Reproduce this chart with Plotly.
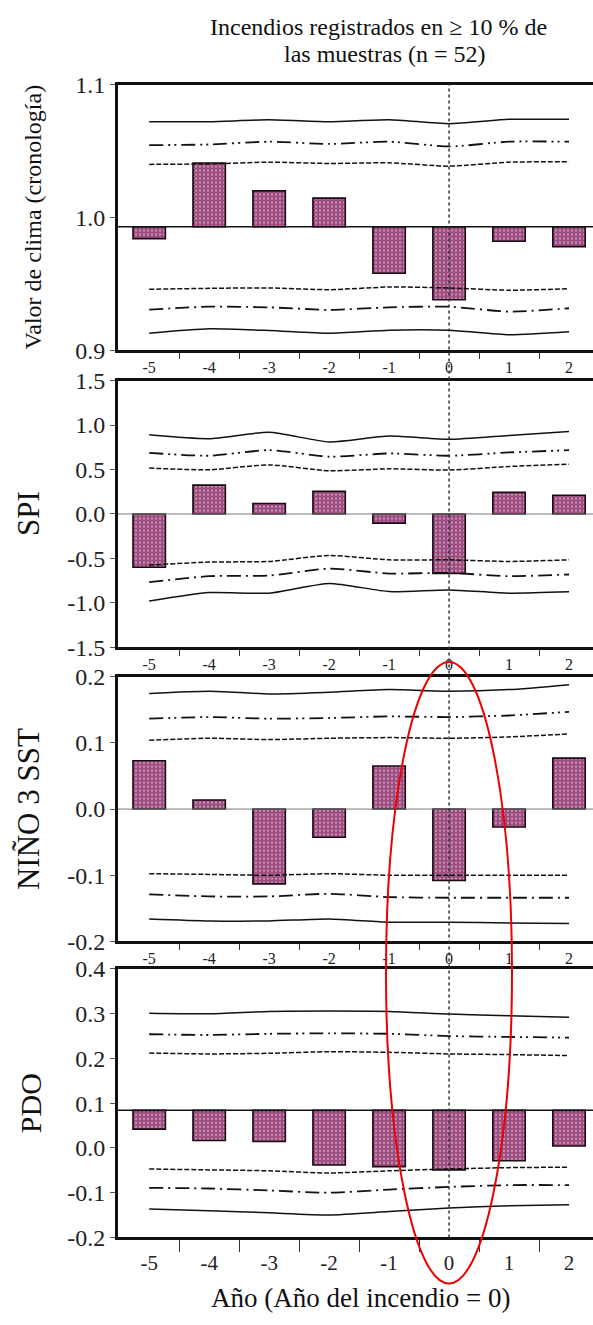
import plotly.graph_objects as go

W, H = 593, 1325

years = [-5, -4, -3, -2, -1, 0, 1, 2]
x_tick_text = ["-5", "-4", "-3", "-2", "-1", "0", "1", "2"]
minor_tick_pos = [-4.5, -3.5, -2.5, -1.5, -0.5, 0.5, 1.5]

# Panel 1: Valor de clima (cronología)
clima_bars = [0.984, 1.041, 1.020, 1.0145, 0.958, 0.938, 0.982, 0.978]
clima_base = 0.993
clima_up_solid = [1.072, 1.072, 1.0735, 1.072, 1.0735, 1.0706, 1.0738, 1.0738]
clima_up_dd = [1.0544, 1.0549, 1.057, 1.0553, 1.057, 1.0534, 1.057, 1.057]
clima_up_dash = [1.0399, 1.0403, 1.0416, 1.0406, 1.0411, 1.0386, 1.0416, 1.0418]
clima_lo_dash = [0.9459, 0.9466, 0.9469, 0.9456, 0.9476, 0.9469, 0.9452, 0.9463]
clima_lo_dd = [0.9306, 0.9328, 0.9323, 0.9304, 0.9323, 0.9328, 0.9291, 0.9316]
clima_lo_solid = [0.9128, 0.9161, 0.9149, 0.9128, 0.9151, 0.9151, 0.9117, 0.9139]
clima_ticks = [0.9, 1.0, 1.1]
clima_tick_text = ["0.9", "1.0", "1.1"]

# Panel 2: SPI
spi_bars = [-0.60, 0.324, 0.118, 0.254, -0.103, -0.67, 0.243, 0.21]
spi_base = 0.0
spi_up_solid = [0.891, 0.847, 0.92, 0.81, 0.876, 0.84, 0.884, 0.928]
spi_up_dd = [0.688, 0.655, 0.718, 0.644, 0.681, 0.655, 0.692, 0.718]
spi_up_dash = [0.516, 0.497, 0.552, 0.486, 0.508, 0.494, 0.534, 0.56]
spi_lo_dash = [-0.575, -0.541, -0.534, -0.467, -0.516, -0.516, -0.534, -0.516]
spi_lo_dd = [-0.766, -0.70, -0.693, -0.615, -0.67, -0.663, -0.70, -0.681]
spi_lo_solid = [-0.98, -0.884, -0.891, -0.781, -0.873, -0.854, -0.891, -0.876]
spi_ticks = [-1.5, -1.0, -0.5, 0.0, 0.5, 1.0, 1.5]
spi_tick_text = ["-1.5", "-1.0", "-0.5", "0.0", "0.5", "1.0", "1.5"]

# Panel 3: NIÑO 3 SST
nino_bars = [0.073, 0.0136, -0.113, -0.0425, 0.065, -0.108, -0.027, 0.077]
nino_base = 0.0
nino_up_solid = [0.1747, 0.178, 0.174, 0.1766, 0.1805, 0.178, 0.1805, 0.188]
nino_up_dd = [0.1366, 0.139, 0.1366, 0.1376, 0.14, 0.139, 0.1414, 0.147]
nino_up_dash = [0.104, 0.107, 0.105, 0.107, 0.108, 0.107, 0.109, 0.1136]
nino_lo_dash = [-0.0977, -0.0987, -0.100, -0.0977, -0.100, -0.100, -0.100, -0.100]
nino_lo_dd = [-0.129, -0.132, -0.132, -0.128, -0.133, -0.134, -0.134, -0.134]
nino_lo_solid = [-0.166, -0.169, -0.169, -0.166, -0.171, -0.171, -0.172, -0.173]
nino_ticks = [-0.2, -0.1, 0.0, 0.1, 0.2]
nino_tick_text = ["-0.2", "-0.1", "0.0", "0.1", "0.2"]

# Panel 4: PDO
pdo_bars = [0.042, 0.0166, 0.0145, -0.038, -0.0416, -0.049, -0.0285, 0.0044]
pdo_base = 0.084
pdo_up_solid = [0.301, 0.2998, 0.305, 0.306, 0.305, 0.299, 0.2954, 0.2917]
pdo_up_dd = [0.254, 0.2523, 0.255, 0.256, 0.255, 0.250, 0.248, 0.2464]
pdo_up_dash = [0.212, 0.21, 0.2114, 0.215, 0.2136, 0.21, 0.2085, 0.2064]
pdo_lo_dash = [-0.047, -0.049, -0.051, -0.056, -0.051, -0.047, -0.044, -0.043]
pdo_lo_dd = [-0.089, -0.0906, -0.095, -0.100, -0.093, -0.087, -0.083, -0.083]
pdo_lo_solid = [-0.1365, -0.140, -0.145, -0.1497, -0.142, -0.134, -0.129, -0.127]
pdo_ticks = [-0.2, -0.1, 0.0, 0.1, 0.2, 0.3, 0.4]
pdo_tick_text = ["-0.2", "-0.1", "0.0", "0.1", "0.2", "0.3", "0.4"]

title_lines = ["Incendios registrados en ≥ 10 % de", "las muestras (n = 52)"]
x_title = "Año (Año del incendio = 0)"

panels = [
    dict(name="Valor de clima (cronología)", bars=clima_bars, base=clima_base,
         lines=[clima_up_solid, clima_up_dd, clima_up_dash, clima_lo_dash, clima_lo_dd, clima_lo_solid],
         yr=[0.9, 1.1], ticks=clima_ticks, ticktext=clima_tick_text, px=(73, 344), tsize=24, tx=33, basecol="#111", basew=1.5),
    dict(name="SPI", bars=spi_bars, base=spi_base,
         lines=[spi_up_solid, spi_up_dd, spi_up_dash, spi_lo_dash, spi_lo_dd, spi_lo_solid],
         yr=[-1.5, 1.5], ticks=spi_ticks, ticktext=spi_tick_text, px=(375, 647), tsize=31, tx=29, basecol="#777", basew=1),
    dict(name="NIÑO 3 SST", bars=nino_bars, base=nino_base,
         lines=[nino_up_solid, nino_up_dd, nino_up_dash, nino_lo_dash, nino_lo_dd, nino_lo_solid],
         yr=[-0.2, 0.2], ticks=nino_ticks, ticktext=nino_tick_text, px=(677, 947), tsize=31, tx=28, basecol="#777", basew=1),
    dict(name="PDO", bars=pdo_bars, base=pdo_base,
         lines=[pdo_up_solid, pdo_up_dd, pdo_up_dash, pdo_lo_dash, pdo_lo_dd, pdo_lo_solid],
         yr=[-0.2, 0.4], ticks=pdo_ticks, ticktext=pdo_tick_text, px=(975, 1249), tsize=30, tx=30, basecol="#111", basew=1.5),
]

line_styles = [
    dict(dash="solid", width=1.5),
    dict(dash="14px,5px,2px,4px,2px,5px", width=1.8),
    dict(dash="5px,2px", width=1.5),
    dict(dash="5px,2px", width=1.5),
    dict(dash="14px,5px,2px,5px", width=1.8),
    dict(dash="solid", width=1.5),
]

FONT = "Liberation Serif"
BAR_COLOR = "#9c4c7e"

fig = go.Figure()
x_dom = [118 / W, 1.0]
xr = [-5.52, 2.4]
shapes = []
annotations = []

for i, p in enumerate(panels):
    k = "" if i == 0 else str(i + 1)
    xa, ya = "x" + k, "y" + k
    b = p["base"]
    fig.add_trace(go.Bar(
        x=years, y=[v - b for v in p["bars"]], base=b,
        width=0.54, xaxis=xa, yaxis=ya, showlegend=False,
        marker=dict(color=BAR_COLOR, line=dict(color="#1a0a14", width=1.6),
                    pattern=dict(shape=".", fgcolor="#f4d8ea", bgcolor=BAR_COLOR,
                                 size=4, solidity=0.25)),
    ))
    for series, st in zip(p["lines"], line_styles):
        fig.add_trace(go.Scatter(
            x=years, y=series, mode="lines", xaxis=xa, yaxis=ya, showlegend=False,
            line=dict(color="#111", width=st["width"], dash=st["dash"], shape="spline", smoothing=0.6),
        ))
    top, bot = p["px"]
    ydom = [1 - bot / H, 1 - top / H]
    last = i == 3
    fig.layout["xaxis" + k] = dict(
        domain=x_dom, range=xr, anchor=ya, showgrid=False, zeroline=False,
        showline=True, linecolor="#111", linewidth=2.5, mirror=True,
        tickmode="array", tickvals=years, ticktext=x_tick_text, ticks="",
        tickfont=dict(family=FONT, size=21 if last else 16, color="#222"),
        ticklabelstandoff=5 if last else 1,
        minor=dict(tickmode="array", tickvals=minor_tick_pos, ticks="outside",
                   ticklen=12 if last else 6, tickcolor="#333", tickwidth=1.2),
    )
    fig.layout["yaxis" + k] = dict(
        domain=ydom, range=p["yr"], anchor=xa, showgrid=False, zeroline=False,
        showline=True, linecolor="#111", linewidth=3,
        tickmode="array", tickvals=p["ticks"], ticktext=p["ticktext"],
        ticks="outside", ticklen=5, tickcolor="#555", tickwidth=1.2,
        tickfont=dict(family=FONT, size=24, color="#222"),
    )
    # baseline
    shapes.append(dict(type="line", xref=xa + " domain", yref=ya, x0=0, x1=1, y0=b, y1=b,
                       line=dict(color=p["basecol"], width=p["basew"]), layer="above"))
    annotations.append(dict(text=p["name"], xref="paper", yref="paper",
                            x=p["tx"] / W, y=1 - (top + bot) / 2 / H, textangle=-90,
                            showarrow=False, xanchor="center", yanchor="middle",
                            font=dict(family=FONT, size=p["tsize"], color="#111")))

# vertical dotted line at year 0 across all panels
shapes.append(dict(type="line", xref="x", yref="paper", x0=0, x1=0,
                   y0=1 - 1249 / H, y1=1 - 73 / H,
                   line=dict(color="#333", width=1.5, dash="dot"), layer="above"))
# red ellipse highlight
shapes.append(dict(type="circle", xref="paper", yref="paper",
                   x0=386 / W, x1=512 / W, y0=1 - 1296 / H, y1=1 - 662 / H,
                   line=dict(color="#ee0000", width=2), layer="above"))

annotations.append(dict(text=title_lines[0], xref="paper", yref="paper", x=378 / W, y=1 - 14 / H,
                        showarrow=False, xanchor="center", yanchor="middle",
                        font=dict(family=FONT, size=24, color="#111")))
annotations.append(dict(text=title_lines[1], xref="paper", yref="paper", x=385 / W, y=1 - 42 / H,
                        showarrow=False, xanchor="center", yanchor="middle",
                        font=dict(family=FONT, size=24, color="#111")))
annotations.append(dict(text=x_title, xref="paper", yref="paper", x=360 / W, y=1 - 1311 / H,
                        showarrow=False, xanchor="center", yanchor="middle",
                        font=dict(family=FONT, size=27, color="#111")))

fig.update_layout(
    width=W, height=H, margin=dict(l=0, r=0, t=0, b=0),
    paper_bgcolor="white", plot_bgcolor="white",
    shapes=shapes, annotations=annotations, bargap=0.4,
)

fig.write_html("out.html")
